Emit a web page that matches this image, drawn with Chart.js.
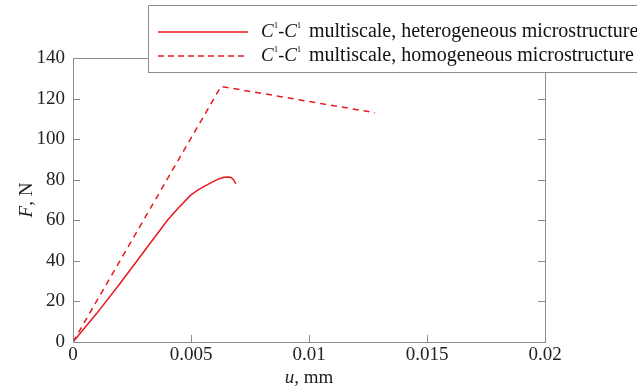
<!DOCTYPE html>
<html>
<head>
<meta charset="utf-8">
<script src="https://cdn.jsdelivr.net/npm/chart.js@4"></script>
<style>
  body { margin: 0; background: #fff; }
  #wrap { width: 637px; height: 389px; }
</style>
</head>
<body>
<div id="wrap"><canvas id="chart" width="637" height="389"></canvas></div>
<script>
// values
const heteroU = [0, 0.001, 0.002, 0.003, 0.004, 0.0045, 0.005, 0.0053, 0.0056, 0.0059, 0.0062, 0.0064, 0.0066, 0.0067, 0.0068, 0.0069];
const heteroF = [0, 14, 29, 44.5, 60, 66.5, 72.5, 75, 77, 78.8, 80.5, 81.2, 81.3, 81.1, 80, 78];
const homoU = [0, 0.00627, 0.0128];
const homoF = [0, 126, 113];
const xTickLabels = ['0', '0.005', '0.01', '0.015', '0.02'];
const yTickLabels = ['0', '20', '40', '60', '80', '100', '120', '140'];
const legendLabels = ['multiscale, heterogeneous microstructure', 'multiscale, homogeneous microstructure'];

const RED = 'rgb(232,24,32)';
const AXIS = '#8c8c8c';
const FONT = "'Liberation Serif', 'DejaVu Serif', serif";

const toPoints = (xs, ys) => xs.map((x, i) => ({ x: x, y: ys[i] }));

// frame, inward ticks, axis titles and legend box
const decor = {
  id: 'decor',
  afterDraw(chart) {
    const ctx = chart.ctx;
    const a = chart.chartArea;
    const xs = chart.scales.x, ys = chart.scales.y;
    ctx.save();
    ctx.strokeStyle = AXIS;
    ctx.lineWidth = 1;
    ctx.strokeRect(a.left + 0.5, a.top + 0.5, a.right - a.left, a.bottom - a.top);
    ctx.beginPath();
    xs.ticks.forEach(t => {
      const px = Math.round(xs.getPixelForValue(t.value)) + 0.5;
      ctx.moveTo(px, a.bottom); ctx.lineTo(px, a.bottom - 7);
    });
    ys.ticks.forEach(t => {
      const py = Math.round(ys.getPixelForValue(t.value)) + 0.5;
      ctx.moveTo(a.left, py); ctx.lineTo(a.left + 7, py);
      ctx.moveTo(a.right, py); ctx.lineTo(a.right - 7, py);
    });
    ctx.stroke();

    // axis titles
    ctx.fillStyle = '#222';
    ctx.textBaseline = 'middle';
    const drawParts = (parts, x, y) => {
      let w = 0;
      parts.forEach(p => { ctx.font = p[1]; w += ctx.measureText(p[0]).width; });
      let cx = x - w / 2;
      parts.forEach(p => {
        ctx.font = p[1];
        ctx.textAlign = 'left';
        ctx.fillText(p[0], cx, y);
        cx += ctx.measureText(p[0]).width;
      });
    };
    drawParts([['u', 'italic 19px ' + FONT], [', mm', '19px ' + FONT]], (a.left + a.right) / 2, 378);
    ctx.save();
    ctx.translate(27, (a.top + a.bottom) / 2);
    ctx.rotate(-Math.PI / 2);
    drawParts([['F', 'italic 19px ' + FONT], [', N', '19px ' + FONT]], 0, 0);
    ctx.restore();

    // legend
    ctx.fillStyle = '#fff';
    ctx.fillRect(148, 5, 500, 68);
    ctx.strokeStyle = AXIS;
    ctx.strokeRect(148.5, 5.5, 500, 67);
    const rows = [32, 56];
    rows.forEach((ry, i) => {
      ctx.strokeStyle = RED;
      ctx.lineWidth = 1.5;
      ctx.setLineDash(i === 1 ? [6, 4] : []);
      ctx.beginPath();
      ctx.moveTo(158, ry); ctx.lineTo(248, ry);
      ctx.stroke();
      ctx.setLineDash([]);
      ctx.fillStyle = '#111';
      ctx.textAlign = 'left';
      let x = 261;
      const seg = (s, font, dy) => {
        ctx.font = font;
        ctx.fillText(s, x, ry + (dy || 0));
        x += ctx.measureText(s).width;
      };
      seg('C', 'italic 19px ' + FONT);
      seg('1', '9px ' + FONT, -6);
      seg('-', '18px ' + FONT);
      seg('C', 'italic 19px ' + FONT);
      seg('1', '9px ' + FONT, -6);
      x = 309;
      seg(legendLabels[i], '20px ' + FONT);
    });
    ctx.restore();
  }
};

new Chart(document.getElementById('chart').getContext('2d'), {
  type: 'scatter',
  data: {
    datasets: [{
      label: 'heterogeneous',
      data: toPoints(heteroU, heteroF),
      showLine: true,
      borderColor: RED,
      borderWidth: 1.5,
      pointRadius: 0
    }, {
      label: 'homogeneous',
      data: toPoints(homoU, homoF),
      showLine: true,
      borderColor: RED,
      borderWidth: 1.5,
      borderDash: [6, 5],
      pointRadius: 0
    }]
  },
  options: {
    responsive: false,
    animation: false,
    layout: { padding: { top: 58, right: 92, left: 0, bottom: 0 } },
    plugins: {
      legend: { display: false },
      tooltip: { enabled: false }
    },
    scales: {
      x: {
        type: 'linear',
        min: 0, max: 0.02,
        afterFit: s => { s.height = 47; },
        grid: { display: false, drawTicks: false },
        border: { display: false },
        ticks: {
          stepSize: 0.005,
          padding: 2,
          color: '#222',
          font: { family: FONT, size: 19 },
          maxRotation: 0,
          callback: (v, i) => xTickLabels[i]
        }
      },
      y: {
        type: 'linear',
        min: 0, max: 140,
        afterFit: s => { s.width = 73; },
        grid: { display: false, drawTicks: false },
        border: { display: false },
        ticks: {
          stepSize: 20,
          padding: 8,
          color: '#222',
          font: { family: FONT, size: 19 },
          callback: (v, i) => yTickLabels[i]
        }
      }
    }
  },
  plugins: [decor]
});
</script>
</body>
</html>
